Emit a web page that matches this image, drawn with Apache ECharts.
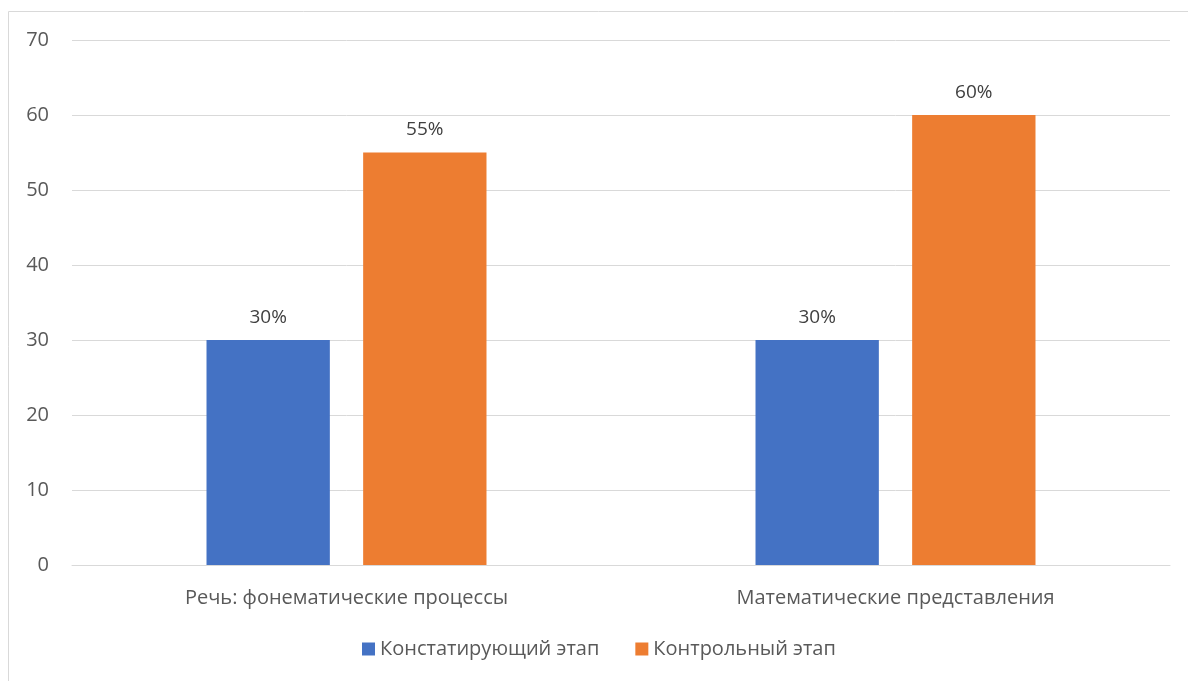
<!DOCTYPE html>
<html><head><meta charset="utf-8">
<script src="https://cdn.jsdelivr.net/npm/echarts@6/dist/echarts.min.js"></script>
<style>html,body{margin:0;padding:0;background:#fff}#c{width:1188px;height:681px}</style>
</head><body><div id="c"></div>
<script>
const categories = ['Речь: фонематические процессы', 'Математические представления'];
const seriesNames = ['Констатирующий этап', 'Контрольный этап'];
const valuesStage1 = [30, 30];
const valuesStage2 = [55, 60];
const colors = ['#4472C4', '#ED7D31'];
const FONT = 'Open Sans';
const FS = 20;
const chart = echarts.init(document.getElementById('c'), null, {renderer: 'canvas'});
chart.setOption({
  animation: false,
  textStyle: {fontFamily: FONT},
  graphic: [{type: 'rect', shape: {x: 8.5, y: 11.5, width: 1200, height: 700}, style: {fill: 'none', stroke: '#d9d9d9', lineWidth: 1}, silent: true}],
  grid: {left: 72, right: 18, top: 40, bottom: 116, containLabel: false},
  legend: {
    bottom: 17, left: 357, itemWidth: 13, itemHeight: 13, itemGap: 36,
    icon: 'rect', padding: [5, 5],
    textStyle: {fontSize: FS, color: '#595959', fontFamily: FONT},
    data: seriesNames
  },
  xAxis: {
    type: 'category', data: categories,
    axisLine: {lineStyle: {color: '#d9d9d9', width: 1}},
    axisTick: {show: false},
    axisLabel: {fontSize: FS, color: '#595959', margin: 23, fontFamily: FONT}
  },
  yAxis: {
    type: 'value', min: 0, max: 70, interval: 10,
    axisLine: {show: false}, axisTick: {show: false},
    splitLine: {lineStyle: {color: '#d9d9d9', width: 1}},
    axisLabel: {fontSize: FS, color: '#595959', margin: 23, fontFamily: FONT}
  },
  series: [
    {name: seriesNames[0], type: 'bar', data: valuesStage1, itemStyle: {color: colors[0]},
     barGap: '27%', barCategoryGap: '49%',
     label: {show: true, position: 'top', distance: 13, formatter: p => p.value + '%', fontSize: 19, color: '#404040', fontFamily: FONT}},
    {name: seriesNames[1], type: 'bar', data: valuesStage2, itemStyle: {color: colors[1]},
     barGap: '27%', barCategoryGap: '49%',
     label: {show: true, position: 'top', distance: 13, formatter: p => p.value + '%', fontSize: 19, color: '#404040', fontFamily: FONT}}
  ]
});
</script></body></html>
